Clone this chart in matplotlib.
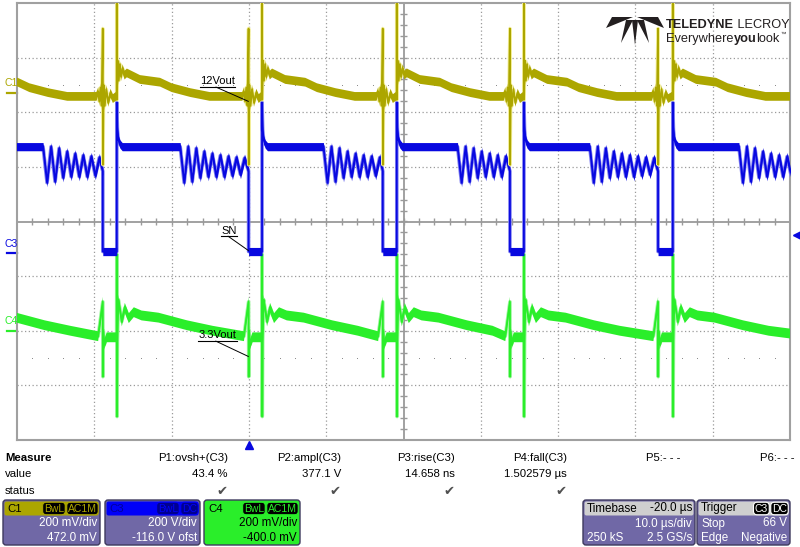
import numpy as np
import matplotlib.pyplot as plt
from matplotlib.patches import FancyBboxPatch, Polygon

plt.rcParams['font.family'] = ['Liberation Sans', 'DejaVu Sans']

# ---- values (time in µs, trigger at 0; vertical in divisions)
t_ring = [-26.63, -8.89, 9.64, 26.99, 44.09, 63.39]   # SN starts ringing
t_fall = [-18.90, -0.04, 17.32, 33.77, 52.93]          # SN falls
t_rise = [-17.09, 1.70, 19.13, 35.58, 54.84]           # SN rises
t_rise_prev = -35.5                                    # last rise before the screen

# C3 (SN)
sn_high, sn_low, sn_prefall = 1.37, -0.55, 0.92
sn_ring = [1.37, 0.71, 1.37, 0.73, 1.34, 0.80, 1.28, 0.82, 1.24, 0.82,
           1.21, 0.82, 1.19, 0.84, 1.17, 0.86, 1.16, 0.87]
ring_half = 0.52
sn_rise_t = [0.0, 0.08, 0.2, 0.4, 0.7]
sn_rise_v = [2.18, 1.68, 1.50, 1.42, 1.37]

# C1 (12Vout) around the edges
v12_rise_t = [-0.02, 0.0, 0.02, 0.1, 0.25, 0.4, 0.55, 0.75, 1.0, 1.3, 3.0, 5.6, 7.1, 9.5, 12.0]
v12_rise_v = [2.30, 4.10, 2.23, 2.95, 2.58, 2.88, 2.65, 2.80, 2.68, 2.72, 2.60, 2.55, 2.45, 2.36, 2.29]
v12_fall_t = [-0.8, -0.6, -0.45, -0.3, -0.15, 0.0, 0.02, 0.1, 0.25, 0.45, 0.7, 1.0, 1.3]
v12_fall_v = [2.29, 2.38, 2.20, 2.45, 2.12, 3.53, 1.04, 2.50, 2.12, 2.42, 2.18, 2.35, 2.25]

# C4 (3.3Vout)
v33_rise_t = [-0.02, 0.0, 0.03, 0.08, 0.2, 0.4, 0.65, 1.04, 1.55, 2.2, 3.2, 5.4, 9.1, 12.4]
v33_rise_v = [-2.12, -0.60, -3.57, -2.20, -1.43, -1.60, -1.83, -1.58, -1.77, -1.66, -1.72, -1.76, -1.90, -2.00]
v33_fall_t = [-0.6, 0.0, 0.02, 0.06, 0.2, 0.5]
v33_fall_v = [-2.10, -1.47, -2.84, -2.00, -2.25, -2.12]

# channel setup (offset / scale -> marker position in div)
c1_ofs, c1_scale = 472.0, 200.0
c3_ofs, c3_scale = -116.0, 200.0
c4_ofs, c4_scale = -400.0, 200.0
trig_level = 66.0

meas_head = ["P1:ovsh+(C3)", "P2:ampl(C3)", "P3:rise(C3)", "P4:fall(C3)", "P5:- - -", "P6:- - -"]
meas_val = ["43.4 %", "377.1 V", "14.658 ns", "1.502579 µs", "", ""]
meas_ok = [True, True, True, True, False, False]

yel, yel_pale = '#aca600', '#f3ee9a'
blu, blu_pale = '#0808e0', '#8080f0'
grn, grn_pale = '#2aee2a', '#9af59a'


def build(rt, rv, ft, fv, tail):
    ts, vs = [], []
    for i, r in enumerate([t_rise_prev] + t_rise):
        f = t_fall[i] if i < len(t_fall) else None
        stop = f + ft[0] if f is not None else 70.5
        for a, b in zip(rt, rv):
            if r + a < stop:
                ts.append(r + a)
                vs.append(b)
        if f is None:
            ts.append(70.5)
            vs.append(tail)
        else:
            ts += [f + a for a in ft]
            vs += fv
    return np.array(ts), np.array(vs)


def build_sn():
    ts, vs = [-30.5], [sn_high]
    for i, r in enumerate(t_ring):
        f = t_fall[i] if i < len(t_fall) else 70.5
        ts.append(r)
        vs.append(sn_high)
        k = 1
        while k < len(sn_ring) and r + k * ring_half < f - 0.15:
            ts.append(r + k * ring_half)
            vs.append(sn_ring[k])
            k += 1
        if i < len(t_fall):
            ts += [f, f, t_rise[i]]
            vs += [sn_prefall, sn_low, sn_low]
            ts += [t_rise[i] + a for a in sn_rise_t]
            vs += sn_rise_v
    return np.array(ts), np.array(vs)


fig = plt.figure(figsize=(8, 5.47), dpi=100)
ax = fig.add_axes([17 / 800, 1 - 440 / 547, 773 / 800, 437 / 547])
ax.set_xlim(-30, 70)
ax.set_ylim(-4, 4)
ax.set_xticks([])
ax.set_yticks([])
for s in ax.spines.values():
    s.set_color('#a0a0a0')
    s.set_linewidth(1.5)

gc = '#9a9a9a'
for t in range(-20, 61, 10):
    if t != 20:
        ax.axvline(t, color=gc, lw=0.9, ls=(0, (1, 2)), zorder=1)
for d in range(-3, 4):
    if d:
        ax.axhline(d, color=gc, lw=0.9, ls=(0, (1, 2)), zorder=1)
ax.axhline(0, color=gc, lw=1.3, zorder=1)
ax.axvline(20, color=gc, lw=1.3, zorder=1)
tick_t = np.arange(-28, 70, 2)
ax.vlines(tick_t, -0.06, 0.06, color=gc, lw=1, zorder=1)
tick_d = np.arange(-3.8, 3.9, 0.2)
ax.hlines(tick_d, 19.6, 20.4, color=gc, lw=1, zorder=1)
dot_t = [t for t in tick_t if t % 10 != 0]
for d in (2.5, -2.5):
    ax.plot(dot_t, [d] * len(dot_t), ls='none', marker='s', ms=0.7, mew=0, color='#8c8c8c', zorder=1)


def trace(ts, vs, col, pale, half, z):
    ax.plot(ts, vs, color=pale, lw=2.6, zorder=z)
    ax.fill_between(ts, vs - half, vs + half, color=col, lw=0, zorder=z + 0.1)
    ax.plot(ts, vs, color=col, lw=1.3, zorder=z + 0.2)


t4, v4 = build(v33_rise_t, v33_rise_v, v33_fall_t, v33_fall_v, -2.06)
trace(t4, v4, grn, grn_pale, 0.09, 3)
t3, v3 = build_sn()
trace(t3, v3, blu, blu_pale, 0.075, 4)
t1, v1 = build(v12_rise_t, v12_rise_v, v12_fall_t, v12_fall_v, 2.29)
trace(t1, v1, yel, yel_pale, 0.08, 5)

# trace labels with leaders
for txt, tx, ty, t_end, tip in [("12Vout", -6.3, 2.51, -1.75, (-0.08, 2.2)),
                                ("SN", -3.58, -0.22, -1.6, (-0.08, -0.53)),
                                ("3.3Vout", -6.55, -2.14, -1.5, (-0.08, -2.47))]:
    ax.text(tx, ty, txt, fontsize=8, va='baseline', ha='left', zorder=8)
    ax.plot([tx, t_end], [ty - 0.05, ty - 0.05], color='black', lw=0.8, zorder=8)
    mid = tx + (t_end - tx) * 0.45
    ax.plot([mid, tip[0]], [ty - 0.05, tip[1]], color='black', lw=0.7, zorder=8)

# channel ground markers on the left
for name, lvl, col in [("C1", c1_ofs / c1_scale, yel), ("C3", c3_ofs / c3_scale, blu),
                       ("C4", c4_ofs / c4_scale, grn)]:
    ax.plot([-31.3, -30], [lvl, lvl], color=col, lw=1.6, clip_on=False)
    ax.text(-31.6, lvl + 0.08, name, color=col, fontsize=7.5, va='bottom', ha='left')

# trigger markers
ax.plot(0, -4.09, marker='^', ms=6, color=blu, clip_on=False, zorder=9)
ax.plot(71.0, (trig_level + c3_ofs) / c3_scale, marker='<', ms=7, color=blu, clip_on=False)

# ---- overlay in pixel units for the readout area and logo
ov = fig.add_axes([0, 0, 1, 1], zorder=10)
ov.set_xlim(0, 800)
ov.set_ylim(547, 0)
ov.axis('off')
ov.patch.set_alpha(0)
rend = fig.canvas.get_renderer()


def w(t):
    return t.get_window_extent(renderer=rend).width


# logo
for tri in [[(606, 28), (612, 17), (633, 17)], [(621, 43), (626, 20), (633, 20)],
            [(635, 45), (632, 20), (638, 20)], [(649, 43), (637, 20), (644, 20)],
            [(664, 28), (658, 17), (637, 17)]]:
    ov.add_patch(Polygon(tri, closed=True, fc='#231f20', ec='none'))
x = 666
for s, fw in [("TELEDYNE", 'bold'), (" LECROY", 'normal')]:
    x += w(ov.text(x, 28, s, fontsize=9.2, fontweight=fw, color='#231f20', va='baseline'))
x = 666
for s, fw in [("Everywhere", 'normal'), ("you", 'bold'), ("look", 'normal')]:
    x += w(ov.text(x, 42, s, fontsize=9.2, fontweight=fw, color='#231f20', va='baseline'))
ov.text(x + 1, 36, "™", fontsize=4, color='#231f20', va='baseline')

# measurement table
fs = 8.2
ov.text(5, 458, "Measure", fontsize=fs, fontweight='bold', va='center')
ov.text(5, 474, "value", fontsize=fs, va='center')
ov.text(5, 491, "status", fontsize=fs, va='center')
col_x = [228, 341, 455, 567, 680, 795]
for cx, h, v, ok in zip(col_x, meas_head, meas_val, meas_ok):
    ov.text(cx, 458, h, fontsize=fs, ha='right', va='center')
    ov.text(cx, 474, v, fontsize=fs, ha='right', va='center')
    if ok:
        ov.text(cx - 6, 491, "✔", fontsize=9.5, ha='center', va='center', color='#505050',
                family='DejaVu Sans')

body_c = '#7068a6'


def panel(x0, x1, head_c, body):
    ov.add_patch(FancyBboxPatch((x0, 500), x1 - x0, 45, boxstyle='round,pad=0,rounding_size=3',
                                fc=body, ec='#3e3a5e', lw=1))
    ov.add_patch(FancyBboxPatch((x0 + 1.5, 501.5), x1 - x0 - 3, 14,
                                boxstyle='round,pad=0,rounding_size=2', fc=head_c, ec='none'))


def badges(xr, labels, fg, bg):
    for s in reversed(labels):
        t = ov.text(xr, 508.5, s, fontsize=7.5, ha='right', va='center', color=fg,
                    bbox=dict(boxstyle='round,pad=0.12,rounding_size=0.35', fc=bg, ec=fg, lw=0.8))
        xr -= w(t) + 4


chans = [(3, 100, "C1", yel, body_c, 'black', ["BwL", "AC1M"], yel, 'black',
          "200 mV/div", "472.0 mV", 'white'),
         (105, 200, "C3", '#0000f8', body_c, '#00009a', ["BwL", "DC"], '#0000f8', '#000090',
          "200 V/div", "-116.0 V ofst", 'white'),
         (204, 300, "C4", grn, grn, 'black', ["BwL", "AC1M"], grn, 'black',
          "200 mV/div", "-400.0 mV", 'black')]
for x0, x1, nm, hc, bc, nc, bl, fg, bg, l1, l2, tc in chans:
    panel(x0, x1, hc, bc)
    ov.text(x0 + 4, 508.5, nm, fontsize=8.2, color=nc, va='center')
    badges(x1 - 3, bl, fg, bg)
    ov.text(x1 - 3, 523.5, l1, fontsize=8.4, color=tc, ha='right', va='center')
    ov.text(x1 - 3, 538, l2, fontsize=8.4, color=tc, ha='right', va='center')

# timebase
panel(583, 695, '#cfcfcf', body_c)
ov.text(587, 508.5, "Timebase", fontsize=8.4, va='center')
ov.text(692, 508.5, "-20.0 µs", fontsize=8.4, va='center', ha='right')
ov.text(692, 523.5, "10.0 µs/div", fontsize=8.4, va='center', ha='right', color='white')
ov.text(587, 538, "250 kS", fontsize=8.4, va='center', color='white')
ov.text(692, 538, "2.5 GS/s", fontsize=8.4, va='center', ha='right', color='white')

# trigger
panel(697, 790, '#cfcfcf', body_c)
ov.text(701, 508.5, "Trigger", fontsize=8.4, va='center')
badges(787, ["C3", "DC"], 'white', 'black')
ov.text(701, 523.5, "Stop", fontsize=8.4, va='center', color='white')
ov.text(787, 523.5, "66 V", fontsize=8.4, va='center', ha='right', color='white')
ov.text(701, 538, "Edge", fontsize=8.4, va='center', color='white')
ov.text(787, 538, "Negative", fontsize=8.4, va='center', ha='right', color='white')

fig.savefig("out.png", dpi=100)
